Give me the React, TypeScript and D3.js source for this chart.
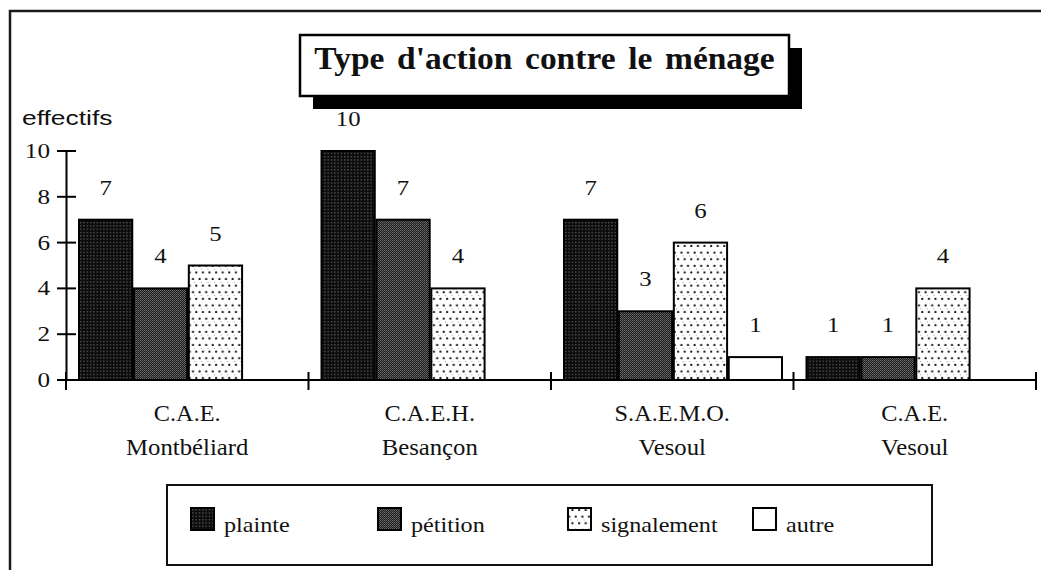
import React from "react";
import * as d3 from "d3";

// ---- data ----
const categoryIds = ["cae-mont", "caeh-bes", "saemo-ves", "cae-ves"];
const categoryLine1 = ["C.A.E.", "C.A.E.H.", "S.A.E.M.O.", "C.A.E."];
const categoryLine2 = ["Montbéliard", "Besançon", "Vesoul", "Vesoul"];
const seriesNames = ["plainte", "pétition", "signalement", "autre"];
const plainte = [7, 10, 7, 1];
const petition = [4, 7, 3, 1];
const signalement = [5, 4, 6, 4];
const autre: (number | null)[] = [null, null, 1, null];
const yTicks = [0, 2, 4, 6, 8, 10];
const titleText = "Type d'action contre le ménage";
const yLabel = "effectifs";

const seriesValues: (number | null)[][] = [plainte, petition, signalement, autre];
const fills = ["url(#pPlainte)", "url(#pPetition)", "url(#pSignal)", "#ffffff"];
const legendX = [191, 378, 568, 753];

const serif = "'Liberation Serif', 'Times New Roman', serif";
const sans = "'Liberation Sans', Arial, sans-serif";

function T(props: {
  x: number; y: number; children: React.ReactNode; anchor?: string;
  size?: number; weight?: string; family?: string; sx?: number; ws?: number;
}) {
  const { x, y, children, anchor = "start", size = 20, weight = "normal", family = serif, sx = 1.2, ws = 0 } = props;
  return (
    <text
      transform={`translate(${x},${y}) scale(${sx},1)`}
      textAnchor={anchor}
      fontSize={size}
      fontWeight={weight}
      fontFamily={family}
      fill="#111"
      style={{ wordSpacing: ws }}
    >
      {children}
    </text>
  );
}

export default function App() {
  const y = d3.scaleLinear().domain([0, 10]).range([380, 151]);
  const x = d3.scaleBand<string>().domain(categoryIds).range([66, 1036]);
  const xs = d3.scaleBand<string>().domain(seriesNames).range([13, 231]).paddingInner(0.03);
  const boundaries = [...categoryIds.map((c) => x(c)!), 1036];

  return (
    <svg
      width={1041}
      height={570}
      style={{ position: "absolute", left: 0, top: 0, display: "block", background: "#fff" }}
    >
      <defs>
        <pattern id="pPlainte" patternUnits="userSpaceOnUse" width={3.3} height={3.3}>
          <rect width={3.3} height={3.3} fill="#0c0c0c" />
          <rect x={1} y={1} width={1.1} height={1.1} fill="#7a7a7a" />
        </pattern>
        <pattern id="pPetition" patternUnits="userSpaceOnUse" width={2} height={2}>
          <rect width={2} height={2} fill="#1c1c1c" />
          <rect x={0} y={0} width={1} height={1} fill="#6e6e6e" />
          <rect x={1} y={1} width={1} height={1} fill="#585858" />
        </pattern>
        <pattern id="pSignal" patternUnits="userSpaceOnUse" width={6.6} height={13.2}>
          <rect width={6.6} height={13.2} fill="#fff" />
          <circle cx={1.6} cy={1.8} r={1.1} fill="#111" />
          <circle cx={4.9} cy={8.4} r={1.1} fill="#111" />
          <circle cx={3.3} cy={5.1} r={0.5} fill="#777" />
        </pattern>
      </defs>

      {/* outer frame */}
      <path d="M10,570 V11 H1041" fill="none" stroke="#1a1a1a" strokeWidth={2.5} />

      {/* title */}
      <rect x={313} y={48} width={489} height={61} fill="#000" />
      <rect x={300} y={35} width={489} height={61} fill="#fff" stroke="#000" strokeWidth={2.5} />
      <T x={544.5} y={69} anchor="middle" size={31} weight="bold" sx={1.08} ws={4}>
        {titleText}
      </T>

      {/* y label */}
      <T x={22} y={125} size={20} family={sans} sx={1.32}>{yLabel}</T>

      {/* bars */}
      {categoryIds.map((c, ci) =>
        seriesNames.map((s, si) => {
          const v = seriesValues[si][ci];
          if (v == null) return null;
          const bx = x(c)! + xs(s)!;
          const bw = xs.bandwidth();
          return (
            <g key={c + s}>
              <rect
                x={bx}
                y={y(v)}
                width={bw}
                height={y(0) - y(v)}
                fill={fills[si]}
                stroke="#000"
                strokeWidth={2}
              />
              <T x={bx + bw / 2} y={y(v) - 25} anchor="middle" size={21} sx={1.18}>{v}</T>
            </g>
          );
        })
      )}

      {/* y axis */}
      <line x1={66.5} x2={66.5} y1={y(10)} y2={y(0)} stroke="#000" strokeWidth={2} />
      {yTicks.map((t) => (
        <g key={t}>
          <line x1={57} x2={76} y1={y(t)} y2={y(t)} stroke="#000" strokeWidth={2} />
          <T x={50} y={y(t) + 7} anchor="end" size={21} sx={1.2}>{t}</T>
        </g>
      ))}

      {/* x axis */}
      <line x1={57} x2={1036} y1={y(0)} y2={y(0)} stroke="#000" strokeWidth={2} />
      {boundaries.map((b, i) => (
        <line key={i} x1={b} x2={b} y1={372} y2={390} stroke="#000" strokeWidth={2} />
      ))}
      {categoryIds.map((c, i) => (
        <g key={c}>
          <T x={x(c)! + x.bandwidth() / 2} y={421} anchor="middle" size={22.5} sx={1.08}>{categoryLine1[i]}</T>
          <T x={x(c)! + x.bandwidth() / 2} y={455} anchor="middle" size={22.5} sx={1.1}>{categoryLine2[i]}</T>
        </g>
      ))}

      {/* legend */}
      <rect x={167} y={485} width={765} height={80} fill="#fff" stroke="#111" strokeWidth={2} />
      {seriesNames.map((s, i) => (
        <g key={s}>
          <rect x={legendX[i]} y={508} width={23} height={22} fill={fills[i]} stroke="#000" strokeWidth={2} />
          <T x={legendX[i] + 33} y={532} size={21} sx={1.15}>{s}</T>
        </g>
      ))}
    </svg>
  );
}
